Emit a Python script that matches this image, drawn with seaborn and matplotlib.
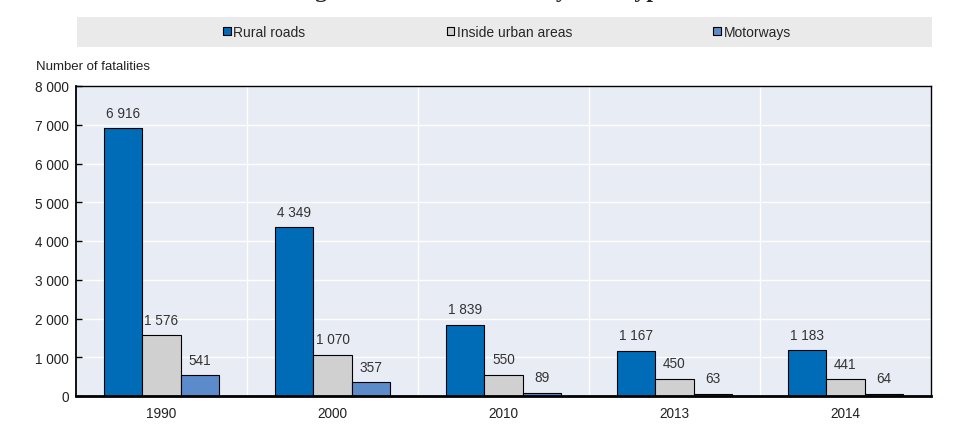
import numpy as np
import pandas as pd
import matplotlib
matplotlib.use('Agg')
import matplotlib.pyplot as plt
import seaborn as sns
from matplotlib import font_manager
from matplotlib.patches import Patch, Rectangle

# ---- data ----
years = ['1990', '2000', '2010', '2013', '2014']
rural = [6916, 4349, 1839, 1167, 1183]
urban = [1576, 1070, 550, 450, 441]
motorways = [541, 357, 89, 63, 64]
series = ['Rural roads', 'Inside urban areas', 'Motorways']
colors = ['#006BB6', '#D0D0D0', '#5B8BCB']
yticks = list(range(0, 8001, 1000))

sns.set_style('white')
plt.rcParams['font.family'] = ['Liberation Sans', 'DejaVu Sans']

names = {f.name for f in font_manager.fontManager.ttflist}
narrow = 'Liberation Sans Narrow' if 'Liberation Sans Narrow' in names else 'Liberation Sans'


def fmt(v):
    return f'{int(round(v)):,}'.replace(',', ' ')


df = pd.DataFrame({
    'year': years * 3,
    'type': np.repeat(series, len(years)),
    'value': rural + urban + motorways,
})

fig = plt.figure(figsize=(9.56, 4.35), dpi=100)
ax = fig.add_axes([76 / 956, 1 - 397 / 435, 855 / 956, 310 / 435])
ax.set_facecolor('#E8ECF5')

sns.barplot(data=df, x='year', y='value', hue='type', order=years, hue_order=series,
            palette=colors, width=0.675, edgecolor='black', linewidth=0.8,
            saturation=1, errorbar=None, legend=False, ax=ax)

for cont in ax.containers:
    ax.bar_label(cont, labels=[fmt(v) for v in cont.datavalues], padding=6,
                 fontsize=9.8, color='#333333')

ax.set_xlim(-0.5, 4.5)
ax.set_ylim(0, 8000)
ax.set_yticks(yticks)
ax.set_yticklabels([fmt(v) for v in yticks])
ax.set_xticks(np.arange(0.5, 4.5, 1), minor=True)
ax.yaxis.grid(True, color='white', lw=1)
ax.xaxis.grid(True, which='minor', color='white', lw=1)
ax.set_axisbelow(True)
ax.set_xlabel('')
ax.set_ylabel('')

ax.tick_params(axis='x', which='major', length=0, pad=7, labelsize=9.8, labelcolor='#222222')
ax.tick_params(axis='x', which='minor', direction='in', length=4, width=1, color='black')
ax.tick_params(axis='y', direction='in', length=4, width=1, color='black', pad=5,
               labelsize=9.8, labelcolor='#222222', left=True)

for side, sp in ax.spines.items():
    sp.set_visible(True)
    sp.set_color('black')
    sp.set_linewidth(1)
ax.spines['bottom'].set_linewidth(2)
ax.spines['left'].set_linewidth(1.3)

# title, cut off at the top edge as in the source
fig.text(482 / 956, 1 + 3 / 435, 'Figure 4. Road fatalities by road type', ha='center',
         va='baseline', fontsize=17, fontweight='bold',
         family=['Liberation Serif', 'DejaVu Serif'])

# axis caption
fig.text(36 / 956, 1 - 67 / 435, 'Number of fatalities', ha='left', va='center',
         fontsize=9.5, color='#222222', family=[narrow, 'DejaVu Sans'])

# legend band
fig.patches.append(Rectangle((77 / 956, 1 - 48 / 435), 855 / 956, 30 / 435,
                             transform=fig.transFigure, facecolor='#EAEAEA',
                             edgecolor='none', zorder=0))
handles = [Patch(facecolor=c, edgecolor='black', linewidth=0.8, label=s)
           for c, s in zip(colors, series)]
fig.legend(handles=handles, loc='center', bbox_to_anchor=(507 / 956, 1 - 33 / 435),
           ncol=3, frameon=False, handlelength=0.55, handleheight=0.55,
           handletextpad=0.2, columnspacing=10.15,
           prop={'family': [narrow, 'DejaVu Sans'], 'size': 10})

fig.savefig('out.png', dpi=100)
